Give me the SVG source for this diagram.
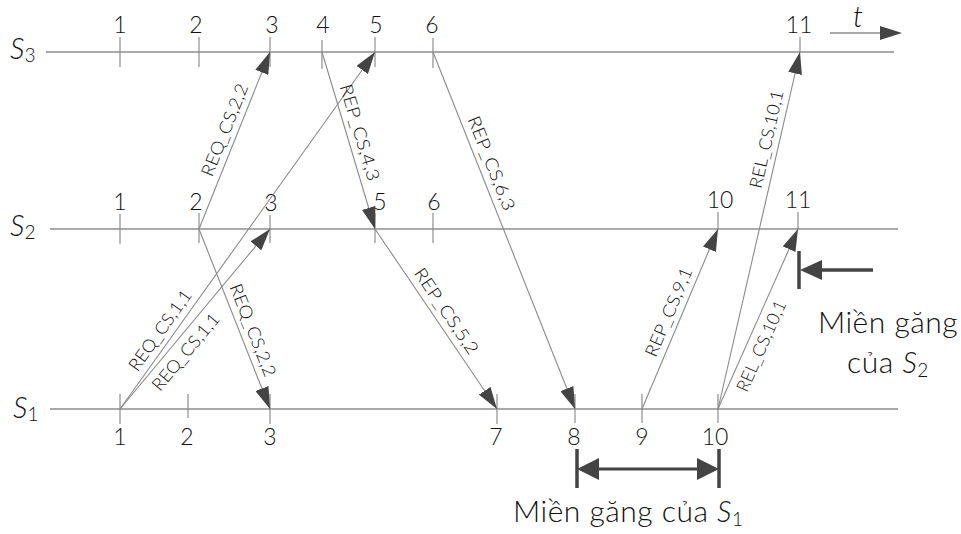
<svg xmlns="http://www.w3.org/2000/svg" width="961" height="534" viewBox="0 0 961 534">
<style>
.tl{stroke:#8e8e8e;stroke-width:1.3;fill:none}
.tk{stroke:#8e8e8e;stroke-width:1.2}
.msg{stroke:#8a8a8a;stroke-width:1.1;fill:none;marker-end:url(#ah)}
.num{font-family:Lato,"Liberation Sans",sans-serif;font-weight:300;font-size:23px;fill:#111;text-anchor:middle}
.lbl{font-family:Lato,"Liberation Sans",sans-serif;font-weight:300;font-size:17.5px;fill:#111;text-anchor:middle}
.big{font-family:Lato,"Liberation Sans",sans-serif;font-weight:300;font-size:30px;letter-spacing:0.5px;fill:#111}
.pn{font-family:Lato,"Liberation Sans",sans-serif;font-weight:300;font-style:italic;font-size:29px;fill:#111}
.sub{font-family:Lato,"Liberation Sans",sans-serif;font-weight:300;font-size:19px;font-style:normal}
.cs{stroke:#444;stroke-width:3.5;fill:none}
</style>
<defs>
<marker id="ah" markerUnits="userSpaceOnUse" markerWidth="22" markerHeight="14" refX="22" refY="7" orient="auto" viewBox="0 0 22 14"><path d="M0,0 L22,7 L0,14 Z" fill="#444"/></marker>
</defs>

<g id="time-axis">
<line x1="830" y1="33" x2="880" y2="33" class="tl"/>
<path d="M880,26 L902,33 L880,40 Z" fill="#444"/>
<text x="858" y="27" class="pn" font-size="23" text-anchor="middle">t</text>
</g>

<g id="S3">
<line x1="46" y1="52" x2="894" y2="52" class="tl"/>
<text x="10" y="59" class="pn">S<tspan class="sub" dy="3">3</tspan></text>
<path class="tk" d="M120,37V67 M199,37V67 M270,37V67 M322,40V69 M375,37V67 M433,38V68 M800,37V52"/>
<text class="num" x="120" y="33">1</text>
<text class="num" x="196" y="33">2</text>
<text class="num" x="272" y="33">3</text>
<text class="num" x="323" y="33">4</text>
<text class="num" x="376" y="33">5</text>
<text class="num" x="432" y="33">6</text>
<text class="num" x="799" y="33">11</text>
</g>

<g id="S2">
<line x1="50" y1="229" x2="898" y2="229" class="tl"/>
<text x="10" y="236" class="pn">S<tspan class="sub" dy="3">2</tspan></text>
<path class="tk" d="M120,214V244 M199,213V243 M270,215V243 M375,213V243 M433,213V243 M718,212V229 M798,212V229"/>
<text class="num" x="120" y="210">1</text>
<text class="num" x="196" y="210">2</text>
<text class="num" x="271" y="211">3</text>
<text class="num" x="380" y="210">5</text>
<text class="num" x="434" y="210">6</text>
<text class="num" x="720" y="208">10</text>
<text class="num" x="798" y="208">11</text>
</g>

<g id="S1">
<line x1="50" y1="409" x2="898" y2="409" class="tl"/>
<text x="13" y="418" class="pn">S<tspan class="sub" dy="3">1</tspan></text>
<path class="tk" d="M120,394V424 M188,394V418 M270,394V424 M497,394V424 M575,394V423 M642,394V423 M718,394V423"/>
<text class="num" x="120" y="445">1</text>
<text class="num" x="187" y="445">2</text>
<text class="num" x="270" y="445">3</text>
<text class="num" x="496" y="445">7</text>
<text class="num" x="574" y="445">8</text>
<text class="num" x="642" y="445">9</text>
<text class="num" x="715" y="445">10</text>
</g>

<g id="connectors">
<line class="msg" x1="120" y1="409" x2="375" y2="52"/>
<line class="msg" x1="120" y1="409" x2="270" y2="229"/>
<line class="msg" x1="199" y1="229" x2="270" y2="52"/>
<line class="msg" x1="199" y1="229" x2="270" y2="409"/>
<line class="msg" x1="322" y1="52" x2="375" y2="229"/>
<line class="msg" x1="375" y1="229" x2="497" y2="409"/>
<line class="msg" x1="433" y1="52" x2="575" y2="409"/>
<line class="msg" x1="642" y1="409" x2="718" y2="229"/>
<line class="msg" x1="718" y1="409" x2="800" y2="52"/>
<line class="msg" x1="718" y1="409" x2="798" y2="229"/>
<text class="lbl" transform="translate(170.7,337.9) rotate(-54.46)" y="-7" textLength="95" lengthAdjust="spacingAndGlyphs">REQ_CS,1,1</text>
<text class="lbl" transform="translate(175,343) rotate(-50.19)" y="20" textLength="95" lengthAdjust="spacingAndGlyphs">REQ_CS,1,1</text>
<text class="lbl" transform="translate(236.8,134.8) rotate(-68.14)" y="-7" textLength="98" lengthAdjust="spacingAndGlyphs">REQ_CS,2,2</text>
<text class="lbl" transform="translate(240.8,335) rotate(68.47)" y="-7" textLength="98" lengthAdjust="spacingAndGlyphs">REQ_CS,2,2</text>
<text class="lbl" transform="translate(347.2,136.1) rotate(73.33)" y="-7" textLength="100" lengthAdjust="spacingAndGlyphs">REP_CS,4,3</text>
<text class="lbl" transform="translate(435.6,318.4) rotate(55.87)" y="-7" textLength="100" lengthAdjust="spacingAndGlyphs">REP_CS,5,2</text>
<text class="lbl" transform="translate(479.3,168.1) rotate(68.3)" y="-7" textLength="100" lengthAdjust="spacingAndGlyphs">REP_CS,6,3</text>
<text class="lbl" transform="translate(680.8,317.1) rotate(-67.1)" y="-7" textLength="95" lengthAdjust="spacingAndGlyphs">REP_CS,9,1</text>
<text class="lbl" transform="translate(779.3,142.1) rotate(-77.06)" y="-7" textLength="100" lengthAdjust="spacingAndGlyphs">REL_CS,10,1</text>
<text class="lbl" transform="translate(748.5,340.3) rotate(-66.04)" y="20" textLength="98" lengthAdjust="spacingAndGlyphs">REL_CS,10,1</text>
</g>

<g id="cs-S1">
<path class="cs" d="M577,449V488 M719,449V488"/>
<line x1="590" y1="469" x2="706" y2="469" stroke="#444" stroke-width="3"/>
<path d="M577,469 L599,458 L599,480 Z M719,469 L697,458 L697,480 Z" fill="#444"/>
<text class="big" x="513" y="522">Miền găng của <tspan class="pn" font-size="30">S<tspan class="sub" dy="4">1</tspan></tspan></text>
</g>

<g id="cs-S2">
<path class="cs" d="M799,251V289"/>
<line x1="815" y1="270" x2="873" y2="270" stroke="#444" stroke-width="3.5"/>
<path d="M800,270 L822,260 L822,280 Z" fill="#444"/>
<text class="big" x="888" y="333" text-anchor="middle">Miền găng</text>
<text class="big" x="888" y="373" text-anchor="middle">của <tspan class="pn" font-size="30">S<tspan class="sub" dy="4">2</tspan></tspan></text>
</g>
</svg>
